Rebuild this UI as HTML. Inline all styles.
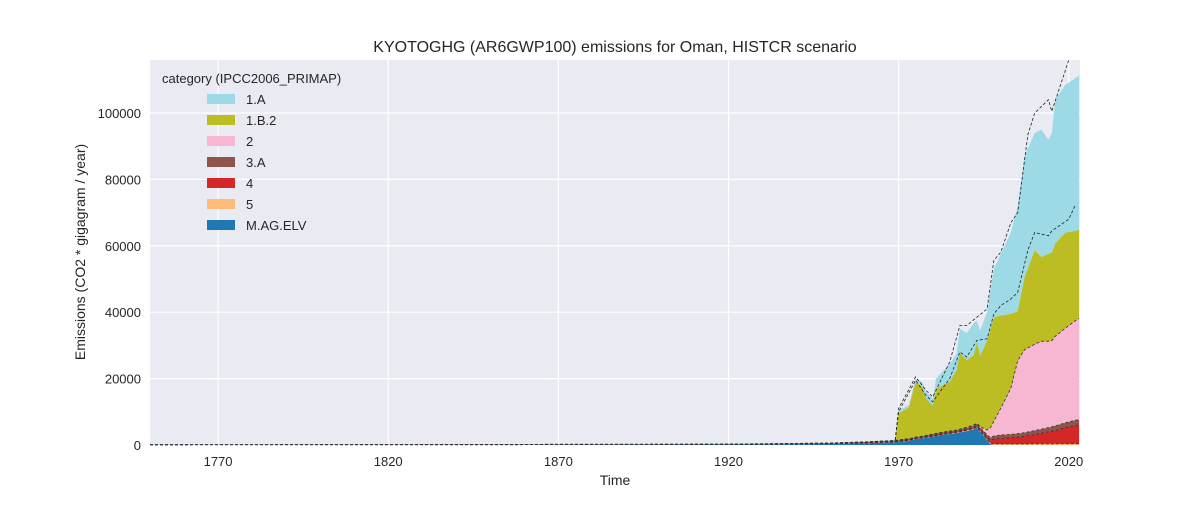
<!DOCTYPE html>
<html><head><meta charset="utf-8"><style>
body{margin:0;background:#fff;font-family:"Liberation Sans",sans-serif}
</style></head><body>
<svg id="chart" width="1200" height="500" xmlns="http://www.w3.org/2000/svg" font-family="Liberation Sans, sans-serif">
<rect x="0" y="0" width="1200" height="500" fill="#fff"/>
<rect x="150" y="60" width="930" height="385" fill="#eaeaf2"/>
<g id="grid"></g>
<g id="areas"></g>
<g id="lines"></g>
<g id="axes"></g>
<text x="615" y="52" text-anchor="middle" font-size="16" fill="#262626">KYOTOGHG (AR6GWP100) emissions for Oman, HISTCR scenario</text>
<text x="615" y="485" text-anchor="middle" font-size="14" fill="#262626">Time</text>
<text transform="translate(85,252) rotate(-90)" text-anchor="middle" font-size="14" fill="#262626">Emissions (CO2 * gigagram / year)</text>
<g id="legend"></g>
</svg>
<script>
const years=[1750,1850,1900,1930,1950,1960,1969,1970,1973,1975,1977,1978,1980,1981,1985,1987,1988,1990,1992,1993,1994,1996,1997,1998,2000,2003,2005,2007,2010,2012,2014,2015,2016,2019,2022,2023];
const magElv=[50,100,150,200,300,500,800,900,1300,1700,2000,2200,2500,2700,3300,3600,3800,4200,4700,5200,4000,1500,200,0,0,0,0,0,0,0,0,0,0,0,0,0];
const cat5=[0,0,0,20,50,80,100,100,100,100,100,100,100,100,150,150,150,200,200,200,200,250,300,300,300,300,300,300,350,350,350,350,350,400,400,400];
const cat4=[0,0,0,0,50,100,150,200,200,200,200,200,250,250,300,300,300,350,350,400,400,600,900,1500,1700,1900,2000,2300,2800,3200,3600,3800,4000,4800,5500,5600];
const cat3A=[50,80,100,150,200,250,300,300,300,350,350,350,400,400,450,450,500,500,550,600,600,700,800,900,1000,1000,1100,1100,1200,1200,1300,1300,1400,1500,1600,1600];
const cat2=[0,0,0,0,0,0,0,0,0,0,0,0,0,0,0,0,0,100,150,200,300,1500,3000,4500,8000,14000,22000,25000,26000,26500,26000,26000,27000,28500,30000,30500];
const cat1B2=[0,0,0,0,0,0,0,8000,9500,16650,14850,11250,8750,13550,14800,18000,22950,20250,21050,24400,21500,26950,29800,31300,28000,22300,14900,21800,28350,25350,26350,26550,27950,28800,27000,26800];
const cat1A=[0,0,0,0,0,0,200,1000,600,1000,1500,1900,2000,3000,5500,5000,7300,8000,9600,6500,7500,8500,12000,14500,18500,24500,31700,36500,35300,38400,34400,36000,43300,44500,46000,46500];
const dashYears=[1969,1970,1975,1978,1980,1985,1988,1990,1993,1996,1998,2000,2003,2005,2008,2010,2014,2015,2020,2022];
const dashTotal=[1500,11000,20500,16500,14500,25000,36000,36000,38500,41000,55700,58000,67000,70000,93500,100000,104000,100500,116000,125000];
const dashMid=[1500,10000,19500,15000,13000,20000,28000,26500,31500,32000,39500,42000,44000,46000,58700,64000,63000,64500,68000,72500];
const xTicks=[1770,1820,1870,1920,1970,2020];
const yTicks=[0,20000,40000,60000,80000,100000];
const names=["M.AG.ELV","5","4","3.A","2","1.B.2","1.A"];
const colors=["#1f77b4","#ffbb78","#d62728","#8c564b","#f7b6d2","#bcbd22","#9edae5"];
const series=[magElv,cat5,cat4,cat3A,cat2,cat1B2,cat1A];
const NS="http://www.w3.org/2000/svg";
const X0=150,X1=1080,Y0=445,Y1=60,yr0=1750,yr1=2023.3,vmax=115963;
const sx=y=>X0+(y-yr0)/(yr1-yr0)*(X1-X0);
const sy=v=>Y0-v/vmax*(Y0-Y1);
function mk(tag,attrs,parent){const e=document.createElementNS(NS,tag);for(const k in attrs)e.setAttribute(k,attrs[k]);parent.appendChild(e);return e;}
const grid=document.getElementById('grid'),axes=document.getElementById('axes');
xTicks.forEach(t=>{const l=mk('line',{x1:sx(t),x2:sx(t),y1:Y1,y2:Y0,stroke:'#fff','stroke-width':1.2},grid);

const tx=mk('text',{x:sx(t),y:466,'text-anchor':'middle','font-size':13,fill:'#262626'},axes);tx.textContent=t;
});
yTicks.forEach(t=>{const l=mk('line',{x1:X0,x2:X1,y1:sy(t),y2:sy(t),stroke:'#fff','stroke-width':1.2},grid);

const tx=mk('text',{x:141,y:sy(t)+5,'text-anchor':'end','font-size':13,fill:'#262626'},axes);tx.textContent=t;
});
const areas=document.getElementById('areas'),lines=document.getElementById('lines');
let base=years.map(()=>0);
series.forEach((s,i)=>{const top=base.map((b,j)=>b+s[j]);
let d='M'+years.map((y,j)=>sx(y).toFixed(1)+','+sy(top[j]).toFixed(1)).join('L');
for(let j=years.length-1;j>=0;j--)d+='L'+sx(years[j]).toFixed(1)+','+sy(base[j]).toFixed(1);
const p=mk('path',{d:d+'Z',fill:colors[i]},areas);


if(i>=1&&i<=4){const dl=mk('path',{d:'M'+years.map((y,j)=>sx(y).toFixed(1)+','+sy(top[j]).toFixed(1)).join('L'),fill:'none',stroke:'#333','stroke-width':0.8,'stroke-dasharray':'3,2'},lines);
}
base=top;});
[dashTotal,dashMid].forEach((arr,k)=>{const dl=mk('path',{d:'M'+dashYears.map((y,j)=>sx(y).toFixed(1)+','+sy(arr[j]).toFixed(1)).join('L'),fill:'none',stroke:'#222','stroke-width':0.8,'stroke-dasharray':'3,2'},lines);
});
mk('rect',{x:X1,y:0,width:120,height:500,fill:'#fff'},lines);
mk('rect',{x:X0,y:0,width:930,height:Y1,fill:'#fff'},lines);
const lg=document.getElementById('legend');
const lt=mk('text',{x:162,y:83,'font-size':13,fill:'#262626'},lg);lt.textContent='category (IPCC2006_PRIMAP)';

const order=["1.A","1.B.2","2","3.A","4","5","M.AG.ELV"];
order.forEach((n,k)=>{const i=names.indexOf(n);const y=99+k*21;
const r=mk('rect',{x:207,y:y-5,width:28,height:10,fill:colors[i]},lg);

const t=mk('text',{x:246,y:y+5,'font-size':13,fill:'#262626'},lg);t.textContent=n;
});
</script>
</body></html>
